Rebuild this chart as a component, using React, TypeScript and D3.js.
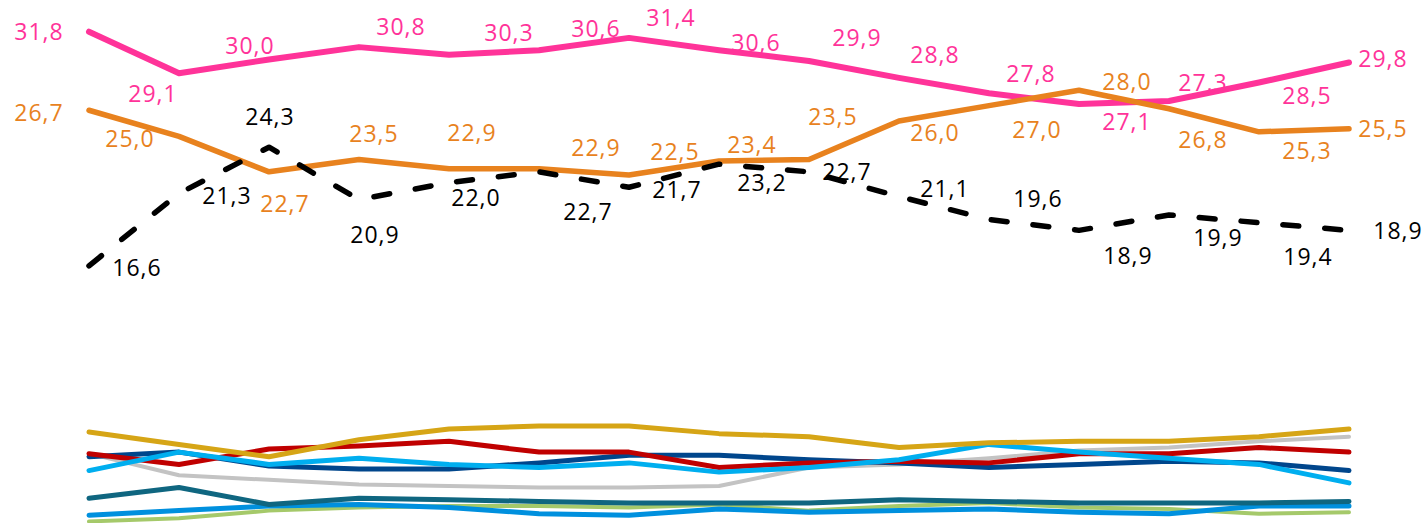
import React from "react";
import * as d3 from "d3";

const categories = ["2006","2007","2008","2009","2010","2011","2012","2013","2014","2015","2016","2017","2018","2019","2020"];

const pinkValues = [31.8,29.1,30.0,30.8,30.3,30.6,31.4,30.6,29.9,28.8,27.8,27.1,27.3,28.5,29.8];
const orangeValues = [26.7,25.0,22.7,23.5,22.9,22.9,22.5,23.4,23.5,26.0,27.0,28.0,26.8,25.3,25.5];
const blackValues = [16.6,21.3,24.3,20.9,22.0,22.7,21.7,23.2,22.7,21.1,19.6,18.9,19.9,19.4,18.9];

const yellowValues = [5.8,5.0,4.2,5.3,6.0,6.2,6.2,5.7,5.5,4.8,5.1,5.2,5.2,5.5,6.0];
const redValues = [4.4,3.7,4.7,4.9,5.2,4.5,4.5,3.5,3.8,3.9,3.8,4.4,4.4,4.8,4.5];
const navyValues = [4.2,4.5,3.6,3.4,3.4,3.8,4.3,4.3,4.0,3.8,3.5,3.7,3.9,3.8,3.3];
const lightBlueValues = [3.3,4.5,3.7,4.1,3.7,3.5,3.8,3.2,3.5,4.0,5.0,4.5,4.1,3.7,2.5];
const grayValues = [4.4,3.0,2.7,2.4,2.3,2.2,2.2,2.3,3.5,3.7,4.1,4.6,4.8,5.2,5.5];
const tealValues = [1.5,2.2,1.1,1.5,1.4,1.3,1.2,1.2,1.2,1.4,1.3,1.2,1.2,1.2,1.3];
const midBlueValues = [0.4,0.7,1.0,1.1,0.9,0.5,0.4,0.8,0.6,0.7,0.8,0.6,0.5,1.0,1.0];
const greenValues = [0.0,0.2,0.7,0.9,1.0,1.0,0.9,1.1,0.7,1.0,1.2,0.9,0.8,0.5,0.6];

// label offsets (px) relative to each data point
const pinkOffsets: [number, number][] = [[-50,0],[-26,20],[-19,-14],[42,-20],[60,-22],[57,-21],[42,-20],[37,-7],[48,-23],[36,-23],[42,-20],[48,18],[34,-18],[48,13],[34,-4]];
const orangeOffsets: [number, number][] = [[-50,2],[-49,2],[16,32],[15,-26],[23,-36],[57,-21],[46,-23],[33,-16],[24,-43],[36,12],[48,24],[48,-9],[34,31],[48,19],[34,0]];
const blackOffsets: [number, number][] = [[48,2],[48,2],[1,-30],[16,35],[27,15],[49,40],[48,2],[43,19],[38,0],[46,-8],[49,-21],[49,25],[49,23],[49,34],[49,0]];

const W = 1426;
const H = 523;

const fmt = (v: number) => v.toFixed(1).replace(".", ",");

export default function App() {
  const x = d3.scalePoint<string>().domain(categories).range([89, 1349]);
  const y = d3.scaleLinear().domain([0, 33.86]).range([521.4, 0]);

  const line = d3
    .line<number>()
    .x((_, i) => x(categories[i]) as number)
    .y((d) => y(d));

  const bottomSeries = [
    { values: greenValues, color: "#A5C96A", width: 4 },
    { values: midBlueValues, color: "#0090DE", width: 5 },
    { values: tealValues, color: "#0F6680", width: 5 },
    { values: grayValues, color: "#C3C3C3", width: 4 },
    { values: navyValues, color: "#00468C", width: 5 },
    { values: redValues, color: "#C00000", width: 5 },
    { values: lightBlueValues, color: "#00AEEF", width: 5 },
    { values: yellowValues, color: "#D6A516", width: 5 },
  ];

  const labelled = [
    { values: pinkValues, offsets: pinkOffsets, color: "#FF3399" },
    { values: orangeValues, offsets: orangeOffsets, color: "#E8821E" },
    { values: blackValues, offsets: blackOffsets, color: "#000000" },
  ];

  return (
    <svg
      width={W}
      height={H}
      style={{ position: "absolute", left: 0, top: 0, background: "#fff" }}
    >
      <g fontFamily="'Open Sans', sans-serif" fontSize={23} letterSpacing={1}>
        {labelled.map((s, si) =>
          s.values.map((v, i) => (
            <text
              key={`${si}-${i}`}
              x={(x(categories[i]) as number) + s.offsets[i][0]}
              y={y(v) + s.offsets[i][1]}
              dy="0.36em"
              textAnchor="middle"
              fill={s.color}
            >
              {fmt(v)}
            </text>
          ))
        )}
      </g>
      {bottomSeries.map((s, i) => (
        <path
          key={i}
          d={line(s.values) || ""}
          fill="none"
          stroke={s.color}
          strokeWidth={s.width}
          strokeLinecap="round"
          strokeLinejoin="round"
        />
      ))}
      <path d={line(pinkValues) || ""} fill="none" stroke="#FF3399" strokeWidth={6} strokeLinecap="round" strokeLinejoin="round" />
      <path d={line(orangeValues) || ""} fill="none" stroke="#E8821E" strokeWidth={5.5} strokeLinecap="round" strokeLinejoin="round" />
      <path d={line(blackValues) || ""} fill="none" stroke="#000" strokeWidth={5.5} strokeDasharray="16 26" strokeLinecap="round" strokeLinejoin="round" />
    </svg>
  );
}
